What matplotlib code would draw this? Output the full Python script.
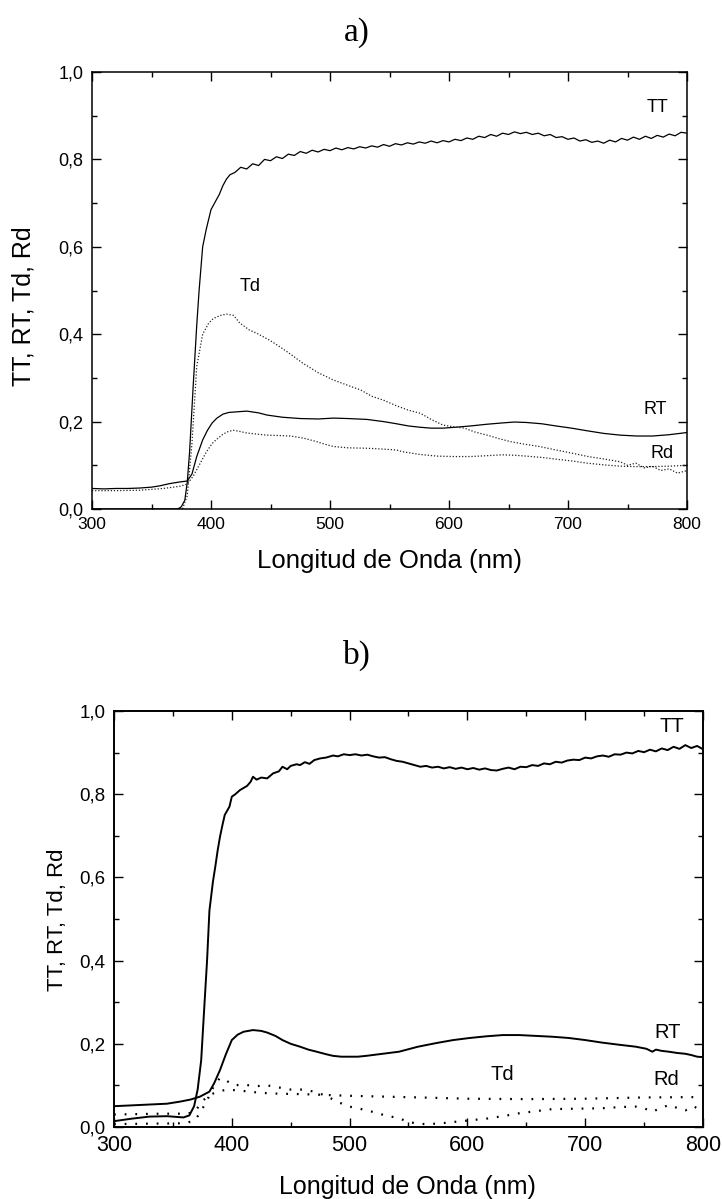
import numpy as np
import matplotlib
matplotlib.use('Agg')
import matplotlib.pyplot as plt
from matplotlib.ticker import MultipleLocator, FormatStrFormatter, FuncFormatter

plt.rcParams['font.family'] = ['Liberation Sans', 'DejaVu Sans']

# ---- a) ----
wl_tt_a = [300, 372, 375, 378, 380, 382, 385, 388, 390, 393, 396, 400, 403, 407, 410, 413, 416,
           420, 425, 430, 435, 440, 445, 450, 455, 460, 465, 470, 475, 480, 485, 490, 495, 500,
           505, 510, 515, 520, 525, 530, 535, 540, 545, 550, 555, 560, 565, 570, 575, 580, 585,
           590, 595, 600, 605, 610, 615, 620, 625, 630, 635, 640, 645, 650, 655, 660, 665, 670,
           675, 680, 685, 690, 695, 700, 705, 710, 715, 720, 725, 730, 735, 740, 745, 750, 755,
           760, 765, 770, 775, 780, 785, 790, 795, 800]
tt_a = [0.0, 0.0, 0.005, 0.02, 0.06, 0.13, 0.28, 0.42, 0.50, 0.60, 0.64, 0.685, 0.70, 0.72, 0.74, 0.755, 0.765,
        0.770, 0.782, 0.778, 0.790, 0.786, 0.800, 0.797, 0.806, 0.802, 0.812, 0.809, 0.818, 0.814, 0.821, 0.817, 0.823, 0.820,
        0.826, 0.822, 0.827, 0.824, 0.829, 0.826, 0.831, 0.828, 0.834, 0.830, 0.836, 0.833, 0.838, 0.835, 0.840, 0.837, 0.842,
        0.838, 0.843, 0.840, 0.846, 0.843, 0.849, 0.846, 0.853, 0.850, 0.857, 0.853, 0.860, 0.857, 0.863, 0.859, 0.862, 0.857,
        0.860, 0.854, 0.857, 0.850, 0.852, 0.846, 0.849, 0.842, 0.845, 0.839, 0.842, 0.837, 0.844, 0.840, 0.848, 0.844, 0.851,
        0.846, 0.853, 0.848, 0.855, 0.851, 0.858, 0.854, 0.862, 0.860]

wl_rt_a = [300, 310, 320, 330, 340, 350, 357, 365, 374, 380, 384, 388, 393, 397, 401, 405, 410, 415,
           420, 425, 430, 440, 447, 460, 475, 490, 503, 515, 531, 545, 556, 566, 576, 585, 595,
           605, 618, 632, 645, 655, 665, 678, 690, 703, 716, 730, 744, 758, 771, 785, 800]
rt_a = [0.047, 0.046, 0.047, 0.047, 0.048, 0.050, 0.053, 0.058, 0.062, 0.064, 0.080, 0.120, 0.158, 0.180, 0.197, 0.208, 0.217, 0.221,
        0.222, 0.223, 0.224, 0.220, 0.215, 0.210, 0.207, 0.206, 0.208, 0.207, 0.205, 0.200, 0.195, 0.190, 0.187, 0.185, 0.185,
        0.187, 0.190, 0.194, 0.197, 0.199, 0.198, 0.195, 0.190, 0.185, 0.179, 0.173, 0.169, 0.167, 0.167, 0.170, 0.175]

wl_td_a = [300, 376, 380, 384, 388, 393, 398, 402, 408, 413, 419, 424, 432, 440, 450, 458, 468, 477,
           490, 503, 515, 526, 535, 545, 556, 566, 576, 585, 595, 604, 613, 622, 632, 642, 652,
           664, 676, 690, 703, 717, 731, 744, 750, 757, 764, 771, 778, 785, 792, 800]
td_a = [0.0, 0.0, 0.03, 0.15, 0.326, 0.40, 0.425, 0.436, 0.443, 0.446, 0.443, 0.426, 0.41, 0.40, 0.385, 0.371, 0.352, 0.334,
        0.312, 0.295, 0.283, 0.272, 0.258, 0.249, 0.236, 0.226, 0.219, 0.205, 0.192, 0.188, 0.185, 0.176, 0.169, 0.161, 0.154,
        0.148, 0.143, 0.135, 0.128, 0.120, 0.114, 0.108, 0.100, 0.105, 0.094, 0.098, 0.088, 0.092, 0.082, 0.088]

wl_rd_a = [300, 320, 340, 360, 374, 380, 385, 391, 396, 401, 405, 410, 415, 419, 425, 430, 440, 447,
           458, 467, 478, 489, 496, 503, 515, 531, 545, 556, 561, 575, 590, 605, 618, 632, 645,
           655, 665, 678, 690, 703, 716, 730, 744, 757, 771, 785, 800]
rd_a = [0.042, 0.042, 0.043, 0.047, 0.052, 0.057, 0.075, 0.105, 0.130, 0.150, 0.160, 0.171, 0.178, 0.180, 0.177, 0.174, 0.171, 0.169,
        0.168, 0.167, 0.162, 0.154, 0.148, 0.143, 0.140, 0.139, 0.137, 0.135, 0.131, 0.125, 0.121, 0.120, 0.120, 0.122, 0.124,
        0.123, 0.121, 0.118, 0.114, 0.110, 0.105, 0.101, 0.098, 0.097, 0.097, 0.098, 0.100]

# ---- b) ----
wl_tt_b = [300, 315, 330, 345, 359, 364, 368, 371, 374, 377, 379, 381, 384, 386, 388, 390, 392, 394,
           396, 398, 400, 403, 407, 410, 413, 416, 418, 421, 425, 430, 435, 440, 443, 447, 450,
           455, 458, 462, 466, 470, 475, 480, 486, 490, 495, 500, 505, 510, 515, 520, 525, 530,
           535, 540, 545, 550, 555, 560, 565, 570, 575, 580, 585, 590, 595, 600, 605, 610, 615,
           620, 625, 630, 635, 640, 645, 650, 655, 660, 665, 670, 675, 680, 685, 690, 695, 700,
           705, 710, 715, 720, 725, 730, 735, 740, 745, 750, 755, 760, 765, 770, 775, 780, 785,
           790, 795, 800]
tt_b = [0.014, 0.020, 0.025, 0.026, 0.023, 0.028, 0.050, 0.090, 0.160, 0.305, 0.400, 0.520, 0.590, 0.626, 0.665, 0.698, 0.725, 0.750,
        0.760, 0.770, 0.794, 0.800, 0.810, 0.815, 0.820, 0.830, 0.842, 0.835, 0.840, 0.838, 0.850, 0.855, 0.866, 0.860, 0.868,
        0.872, 0.870, 0.877, 0.873, 0.882, 0.886, 0.888, 0.893, 0.891, 0.896, 0.894, 0.896, 0.893, 0.895, 0.891, 0.888, 0.889,
        0.884, 0.880, 0.878, 0.874, 0.870, 0.866, 0.868, 0.864, 0.866, 0.862, 0.865, 0.861, 0.864, 0.860, 0.863, 0.859, 0.862,
        0.858, 0.857, 0.861, 0.864, 0.860, 0.866, 0.865, 0.870, 0.868, 0.874, 0.872, 0.878, 0.876, 0.881, 0.883, 0.882, 0.888,
        0.886, 0.891, 0.893, 0.890, 0.896, 0.895, 0.900, 0.898, 0.904, 0.901, 0.907, 0.903, 0.910, 0.906, 0.914, 0.909, 0.918,
        0.911, 0.916, 0.908]

wl_rt_b = [300, 315, 330, 345, 356, 365, 373, 381, 385, 390, 395, 400, 405, 410, 418, 425, 430, 437,
           443, 450, 458, 465, 472, 480, 486, 493, 500, 507, 514, 528, 542, 558, 574, 588, 602,
           616, 630, 644, 658, 672, 686, 700, 714, 728, 743, 752, 757, 760, 765, 771, 778, 785,
           790, 795, 800]
rt_b = [0.050, 0.052, 0.054, 0.056, 0.061, 0.066, 0.073, 0.085, 0.105, 0.137, 0.175, 0.209, 0.222, 0.229, 0.233, 0.231, 0.227, 0.219,
        0.209, 0.200, 0.193, 0.186, 0.181, 0.175, 0.171, 0.169, 0.169, 0.169, 0.171, 0.176, 0.181, 0.193, 0.202, 0.209, 0.214,
        0.218, 0.221, 0.221, 0.219, 0.217, 0.214, 0.209, 0.203, 0.198, 0.193, 0.188, 0.181, 0.186, 0.183, 0.181, 0.178, 0.176,
        0.173, 0.169, 0.168]

wl_td_b = [300, 330, 360, 368, 373, 380, 385, 390, 395, 402, 410, 420, 430, 440, 450, 460, 470, 480,
           490, 500, 515, 530, 542, 550, 560, 575, 588, 602, 616, 630, 644, 658, 672, 693, 714,
           730, 743, 750, 757, 764, 771, 778, 785, 792, 800]
td_b = [0.007, 0.008, 0.009, 0.015, 0.033, 0.070, 0.100, 0.118, 0.112, 0.100, 0.102, 0.098, 0.100, 0.095, 0.090, 0.090, 0.085, 0.075,
        0.060, 0.049, 0.040, 0.028, 0.021, 0.012, 0.007, 0.008, 0.012, 0.016, 0.020, 0.026, 0.033, 0.038, 0.043, 0.044, 0.045,
        0.048, 0.049, 0.045, 0.037, 0.045, 0.053, 0.046, 0.040, 0.050, 0.037]

wl_rd_b = [300, 320, 340, 360, 368, 376, 382, 388, 396, 405, 415, 425, 440, 460, 480, 500, 530, 560,
           600, 650, 700, 750, 800]
rd_b = [0.030, 0.031, 0.032, 0.032, 0.035, 0.065, 0.078, 0.085, 0.090, 0.088, 0.085, 0.082, 0.080, 0.079, 0.077, 0.075, 0.073, 0.071,
        0.068, 0.067, 0.068, 0.071, 0.072]

labels = ['TT', 'RT', 'Td', 'Rd']

W, H = 722, 1199
fig = plt.figure(figsize=(W / 100, H / 100), dpi=100)


def make_axes(rect, tick_size_x, tick_size_y, lw):
    ax = fig.add_axes(rect)
    ax.set_xlim(300, 800)
    ax.set_ylim(0, 1.0)
    ax.xaxis.set_major_locator(MultipleLocator(100))
    ax.xaxis.set_minor_locator(MultipleLocator(50))
    ax.yaxis.set_major_locator(MultipleLocator(0.2))
    ax.yaxis.set_minor_locator(MultipleLocator(0.1))
    ax.yaxis.set_major_formatter(FuncFormatter(lambda v, p: ('%.1f' % v).replace('.', ',')))
    ax.tick_params(which='both', direction='in', top=True, right=True, width=1.0)
    ax.tick_params(which='major', length=6.5)
    ax.tick_params(which='minor', length=3.5)
    ax.tick_params(axis='x', labelsize=tick_size_x, pad=6)
    ax.tick_params(axis='y', labelsize=tick_size_y, pad=6)
    for s in ax.spines.values():
        s.set_linewidth(lw)
    return ax


# top panel
ax1 = make_axes([92 / W, 1 - 509 / H, (687 - 92) / W, (509 - 72) / H], 12.5, 13, 1.1)
ax1.plot(wl_tt_a, tt_a, color='black', lw=0.9)
ax1.plot(wl_rt_a, rt_a, color='black', lw=0.9)
ax1.plot(wl_td_a, td_a, color='#222222', lw=0.9, linestyle=(0, (1, 1.5)))
ax1.plot(wl_rd_a, rd_a, color='#222222', lw=0.9, linestyle=(0, (1, 1.5)))
ax1.set_xlabel('Longitud de Onda (nm)', fontsize=18.5, labelpad=12)
ax1.text(775, 0.918, 'TT', fontsize=13, ha='center', va='center')
ax1.text(433, 0.51, 'Td', fontsize=13, ha='center', va='center')
ax1.text(773, 0.227, 'RT', fontsize=13, ha='center', va='center')
ax1.text(779, 0.126, 'Rd', fontsize=13, ha='center', va='center')
fig.text(24 / W, 1 - 306 / H, ', '.join(labels), rotation=90, fontsize=18, ha='center', va='center')
fig.text(357 / W, 1 - 33 / H, 'a)', fontsize=24, ha='center', va='center', family='Liberation Serif')

# bottom panel
ax2 = make_axes([114 / W, 1 - 1127 / H, (703 - 114) / W, (1127 - 711) / H], 15.5, 13.5, 1.4)
ax2.plot(wl_tt_b, tt_b, color='black', lw=1.4)
ax2.plot(wl_rt_b, rt_b, color='black', lw=1.4)
ax2.plot(wl_td_b, td_b, color='black', lw=1.6, linestyle=(0, (0.8, 4)))
ax2.plot(wl_rd_b, rd_b, color='black', lw=1.6, linestyle=(0, (0.8, 4)))
ax2.text(774, 0.962, 'TT', fontsize=14.5, ha='center', va='center')
ax2.text(770, 0.226, 'RT', fontsize=14.5, ha='center', va='center')
ax2.text(630, 0.125, 'Td', fontsize=14.5, ha='center', va='center')
ax2.text(769, 0.113, 'Rd', fontsize=14.5, ha='center', va='center')
fig.text(407 / W, 1 - 1187 / H, 'Longitud de Onda (nm)', fontsize=18, ha='center', va='center')
fig.text(57 / W, 1 - 920 / H, ', '.join(labels), rotation=90, fontsize=16, ha='center', va='center')
fig.text(357 / W, 1 - 655 / H, 'b)', fontsize=24, ha='center', va='center', family='Liberation Serif')

plt.savefig('out.png', dpi=100)
